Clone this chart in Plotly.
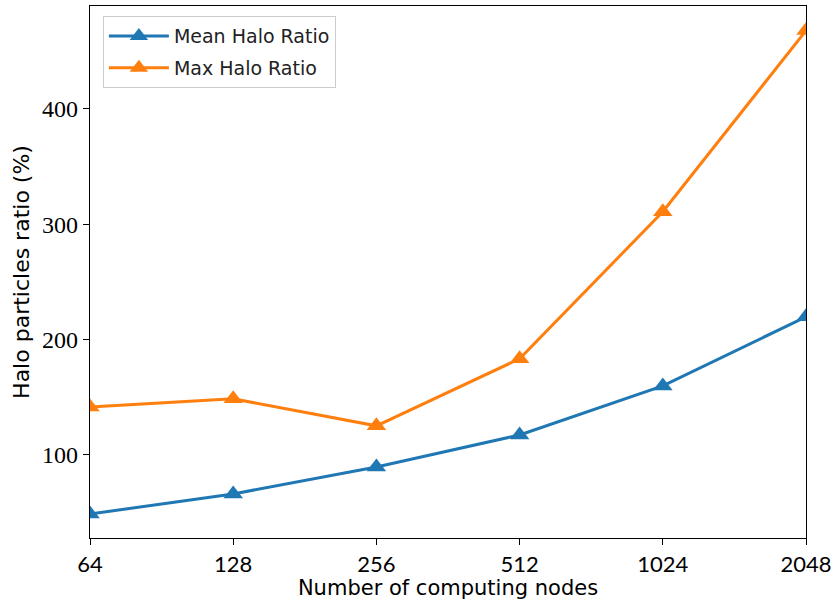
import plotly.graph_objects as go
import math

nodes = [64, 128, 256, 512, 1024, 2048]
mean_halo = [48.8, 66.2, 89.6, 117.3, 159.8, 219.7]
max_halo = [141.6, 148.6, 125.2, 183.3, 310.7, 467.7]
x_ticks = [64, 128, 256, 512, 1024, 2048]
y_ticks = [100, 200, 300, 400]

fig = go.Figure()
fig.add_trace(go.Scatter(x=nodes, y=mean_halo, mode="lines+markers", name="Mean Halo Ratio",
                         legendgroup="a",
                         line=dict(color="#1f77b4", width=3),
                         marker=dict(symbol="triangle-up", size=17, color="#1f77b4")))
fig.add_trace(go.Scatter(x=nodes, y=max_halo, mode="lines+markers", name="Max Halo Ratio",
                         legendgroup="b",
                         line=dict(color="#ff7f0e", width=3),
                         marker=dict(symbol="triangle-up", size=17, color="#ff7f0e")))

sans = "Lato, DejaVu Sans, sans-serif"
wide = "DejaVu Sans, sans-serif"
serif = "Liberation Serif, DejaVu Serif, serif"

fig.update_layout(
    width=831, height=601,
    margin=dict(l=90, r=25, t=6, b=63, autoexpand=False),
    plot_bgcolor="white", paper_bgcolor="white",
    showlegend=True,
    legend=dict(x=0.018, y=0.981, xanchor="left", yanchor="top",
                bordercolor="#cccccc", borderwidth=1, bgcolor="white",
                font=dict(family=wide, size=19, color="#222"),
                itemwidth=60, tracegroupgap=4),
)
eps = 1e-6
fig.update_xaxes(type="log", range=[math.log10(64) - eps, math.log10(2048) + eps],
                 tickvals=x_ticks, ticktext=[str(v) for v in x_ticks],
                 ticks="outside", ticklen=6, tickcolor="black", tickwidth=1,
                 ticklabeloverflow="allow", automargin=False,
                 showline=True, linecolor="black", linewidth=1.2, mirror=True,
                 showgrid=False, zeroline=False,
                 tickfont=dict(family=sans, size=22, color="black"),
                 title=dict(text="Number of computing nodes", font=dict(family=wide, size=21, color="black"), standoff=4))
fig.update_yaxes(range=[28, 489], tickvals=y_ticks, automargin=False,
                 ticks="outside", ticklen=6, tickcolor="black", tickwidth=1,
                 showline=True, linecolor="black", linewidth=1.2, mirror=True,
                 showgrid=False, zeroline=False,
                 tickfont=dict(family=serif, size=24, color="black"),
                 title=dict(text="Halo particles ratio (%)", font=dict(family=wide, size=22, color="black"), standoff=6))

fig.write_html("out.html")
